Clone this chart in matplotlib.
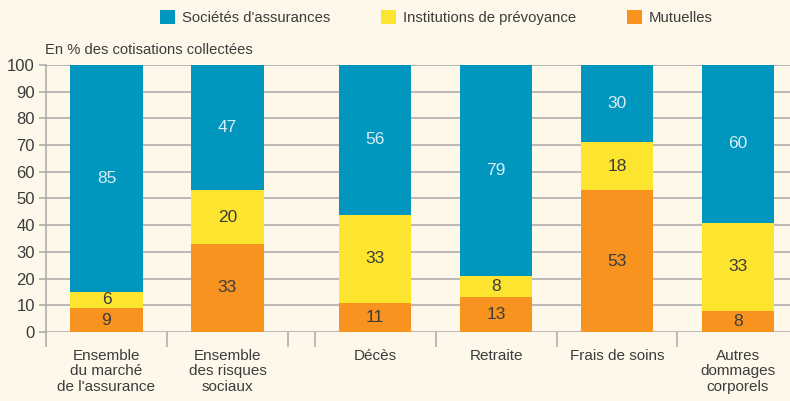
import matplotlib
matplotlib.use('Agg')
import matplotlib.pyplot as plt
import numpy as np

# Data (en % des cotisations collectées)
categories = ["Ensemble\ndu marché\nde l'assurance", "Ensemble\ndes risques\nsociaux",
              "Décès", "Retraite", "Frais de soins", "Autres\ndommages\ncorporels"]
societes = [85, 47, 56, 79, 30, 60]
institutions = [6, 20, 33, 8, 18, 33]
mutuelles = [9, 33, 11, 13, 53, 8]
series_names = ["Sociétés d'assurances", "Institutions de prévoyance", "Mutuelles"]

BG = '#fdf8e9'
BLUE = '#0096bd'
YELLOW = '#fde42f'
ORANGE = '#f7931e'
TXT = '#3c3c3c'
GRID = '#a8a8a8'

plt.rcParams['font.family'] = ['Liberation Sans', 'DejaVu Sans']

# two groups separated by a small gap
gap = 0.22
x = np.arange(len(categories)) + np.where(np.arange(len(categories)) >= 2, gap, 0)
width = 0.6

fig = plt.figure(figsize=(7.9, 4.01), dpi=100, facecolor=BG)
ax = fig.add_axes([0.0582, 0.172, 0.9418, 0.666], facecolor=BG)

mut = np.array(mutuelles)
ins = np.array(institutions)
soc = np.array(societes)
b1 = ax.bar(x, mut, width, color=ORANGE, zorder=3, label=series_names[2])
b2 = ax.bar(x, ins, width, bottom=mut, color=YELLOW, zorder=3, label=series_names[1])
b3 = ax.bar(x, soc, width, bottom=mut + ins, color=BLUE, zorder=3, label=series_names[0])

# value labels
for i in range(len(x)):
    ax.text(x[i], mut[i] / 2, f'{mut[i]}', ha='center', va='center', fontsize=12.5, color=TXT, zorder=4)
    ax.text(x[i], mut[i] + ins[i] / 2, f'{ins[i]}', ha='center', va='center', fontsize=12.5, color=TXT, zorder=4)
    top = min(100, mut[i] + ins[i] + soc[i])
    ax.text(x[i], (mut[i] + ins[i] + top) / 2, f'{soc[i]}', ha='center', va='center',
            fontsize=12.5, color='#d8eef6', zorder=4)

ax.set_ylim(0, 100)
ax.set_xlim(-0.5, 5.65)
ax.set_yticks(range(0, 101, 10))
ax.yaxis.grid(True, color=GRID, linewidth=1.1, zorder=0)
ax.tick_params(axis='y', length=5, color=GRID, width=1.1, labelsize=12, labelcolor=TXT, pad=3)

# boundary ticks (major) and category labels (minor)
bounds = [-0.5, 0.5, 1.5, 1.5 + gap, 2.5 + gap, 3.5 + gap, 4.5 + gap]
ax.set_xticks(bounds)
ax.set_xticklabels([])
ax.tick_params(axis='x', which='major', length=11, color=GRID, width=1.1)
ax.set_xticks(x, minor=True)
ax.set_xticklabels(categories, minor=True, fontsize=11, color=TXT, linespacing=1.15)
ax.tick_params(axis='x', which='minor', length=0, pad=12)

for s in ['top', 'right', 'bottom']:
    ax.spines[s].set_visible(False)
ax.spines['left'].set_color(GRID)
ax.spines['left'].set_linewidth(1.1)

fig.text(0.057, 0.875, 'En % des cotisations collectées', fontsize=10.6, color=TXT, va='center')

leg = fig.legend(handles=[b3, b2, b1], labels=series_names, loc='center left', ncol=3,
                 bbox_to_anchor=(0.202, 0.957), frameon=False, fontsize=10.7,
                 handlelength=1.05, handleheight=1.05, handletextpad=0.45, columnspacing=3.4,
                 borderpad=0, borderaxespad=0)
for t in leg.get_texts():
    t.set_color(TXT)

fig.savefig('out.png', dpi=100, facecolor=BG)
